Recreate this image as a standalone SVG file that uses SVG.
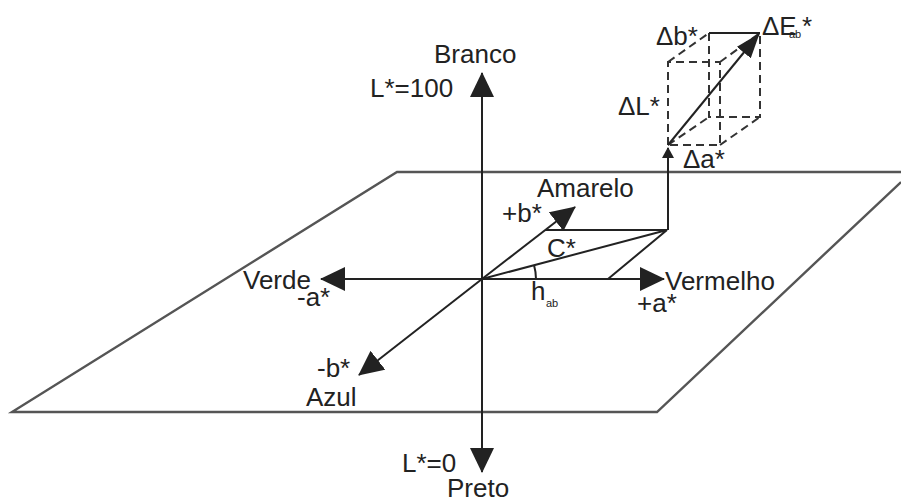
<svg xmlns="http://www.w3.org/2000/svg" width="901" height="502" viewBox="0 0 901 502">
<style>
.plane{fill:none;stroke:#555;stroke-width:2.4}
.ax{fill:none;stroke:#222;stroke-width:2}
.dash{fill:none;stroke:#333;stroke-width:2;stroke-dasharray:8 5}
.t{font-family:"Liberation Sans",Arial,sans-serif;font-size:26px;fill:#222}
.d{font-family:"Liberation Sans",Arial,sans-serif;font-size:26px;fill:#222}
.s{font-family:"Liberation Sans",Arial,sans-serif;font-size:11px;fill:#222}
</style>
<defs>
<marker id="big" markerUnits="userSpaceOnUse" viewBox="0 0 25 24" refX="24" refY="12" markerWidth="25" markerHeight="24" orient="auto">
<path d="M0,0 L25,12 L0,24 Z" fill="#222"/>
</marker>
<marker id="mid" markerUnits="userSpaceOnUse" viewBox="0 0 25 18" refX="24" refY="9" markerWidth="25" markerHeight="18" orient="auto">
<path d="M0,0 L25,9 L0,18 Z" fill="#222"/>
</marker>
<marker id="small" markerUnits="userSpaceOnUse" viewBox="0 0 11 12" refX="10" refY="6" markerWidth="11" markerHeight="12" orient="auto">
<path d="M0,0 L11,6 L0,12 Z" fill="#222"/>
</marker>
</defs>
<g id="plane">
<path class="plane" d="M901,172 L397,172 L12,412 L657,412 L901,182"/>
</g>
<g id="connectors">
<line class="ax" x1="482" y1="279" x2="482" y2="73" marker-end="url(#big)"/>
<line class="ax" x1="482" y1="279" x2="482" y2="472" marker-end="url(#big)"/>
<line class="ax" x1="482" y1="279" x2="321" y2="279" marker-end="url(#big)"/>
<line class="ax" x1="482" y1="279" x2="664" y2="279" marker-end="url(#big)"/>
<line class="ax" x1="482" y1="279" x2="575" y2="207" marker-end="url(#big)"/>
<line class="ax" x1="482" y1="279" x2="359" y2="375" marker-end="url(#big)"/>
<path class="ax" d="M482,279 L667,230 L545,230 M667,230 L608,279"/>
<path class="ax" d="M536,279 A54,54 0 0 0 534,265"/>
<line class="ax" x1="668" y1="230" x2="668" y2="148" marker-end="url(#small)"/>
<path class="dash" d="M668,145 L668,62 L720,62 L720,145 L668,145 M709,33 L709,117 L760,117 L760,33 M668,62 L709,33 M720,62 L760,33 M668,145 L709,117 M720,145 L760,117"/>
<line class="ax" x1="709" y1="33" x2="760" y2="33"/>
<line class="ax" x1="668" y1="145" x2="759" y2="34" marker-end="url(#mid)"/>
</g>
<g id="labels">
<text class="t" x="434" y="63">Branco</text>
<text class="t" x="370" y="97">L*=100</text>
<text class="t" x="402" y="472">L*=0</text>
<text class="t" x="447" y="497">Preto</text>
<text class="t" x="243" y="289">Verde</text>
<text class="t" x="297" y="306">-a*</text>
<text class="t" x="665" y="290">Vermelho</text>
<text class="t" x="637" y="312">+a*</text>
<text class="t" x="537" y="197">Amarelo</text>
<text class="t" x="502" y="222">+b*</text>
<text class="t" x="547" y="257">C*</text>
<text class="t" x="531" y="300">h</text>
<text class="s" x="546" y="307">ab</text>
<text class="t" x="317" y="377">-b*</text>
<text class="t" x="306" y="406">Azul</text>
<text class="d" x="656" y="45">Δb*</text>
<text class="d" x="762" y="35">ΔE</text>
<text class="s" x="789" y="38">ab</text>
<text class="d" x="802" y="35">*</text>
<text class="d" x="618" y="115">ΔL*</text>
<text class="d" x="683" y="168">Δa*</text>
</g>
</svg>
